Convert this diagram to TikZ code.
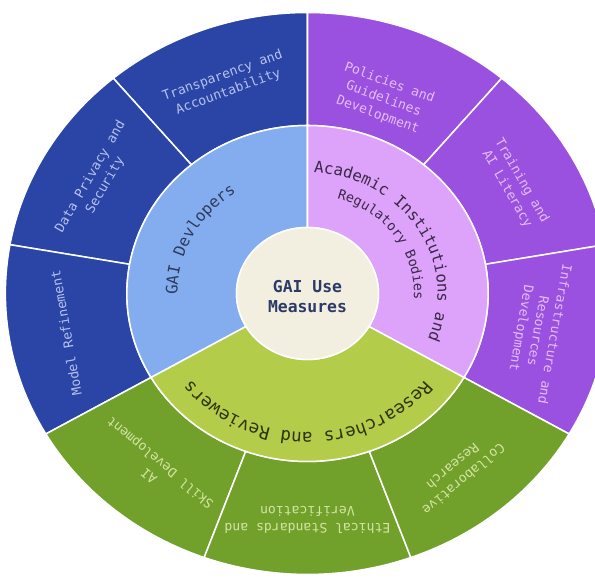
\documentclass[tikz,border=0pt]{standalone}
\usepackage{fontspec}
\usetikzlibrary{decorations.text}
\newfontfamily\monofont{DejaVu Sans Mono}
\definecolor{devdark}{HTML}{2B45A6}
\definecolor{devlight}{HTML}{84ADF0}
\definecolor{acadark}{HTML}{9A51E0}
\definecolor{acalight}{HTML}{DDA2FA}
\definecolor{resdark}{HTML}{71A12A}
\definecolor{reslight}{HTML}{B3CC4A}
\definecolor{hubfill}{HTML}{F2EFE1}
\definecolor{hubtext}{HTML}{2D3A66}
\definecolor{devtext}{HTML}{B4C2EE}
\definecolor{acatext}{HTML}{E6BDF8}
\definecolor{restext}{HTML}{D3E4A4}
\definecolor{devname}{HTML}{2E3A5C}
\definecolor{acaname}{HTML}{3A2848}
\definecolor{resname}{HTML}{2C3410}
\begin{document}
\begin{tikzpicture}[x=0.03225cm,y=0.03cm,
		wedge/.style={draw=white,line width=1.3pt},
		leaflabel/.style={font=\monofont\fontsize{11.2}{14.5}\selectfont,align=center,inner sep=0pt},
		hublabel/.style={font=\monofont\bfseries\fontsize{14}{17}\selectfont,align=center,text=hubtext}]
		\useasboundingbox (-286,-285.5) rectangle (267.4,293.5);
		\draw [wedge,fill=devdark] (90:168) arc[start angle=90,end angle=130,radius=168] -- (130:281) arc[start angle=130,end angle=90,radius=281] -- cycle;
		\draw [wedge,fill=devdark] (130:168) arc[start angle=130,end angle=170,radius=168] -- (170:281) arc[start angle=170,end angle=130,radius=281] -- cycle;
		\draw [wedge,fill=devdark] (170:168) arc[start angle=170,end angle=210,radius=168] -- (210:281) arc[start angle=210,end angle=170,radius=281] -- cycle;
		\draw [wedge,fill=acadark] (50:168) arc[start angle=50,end angle=90,radius=168] -- (90:281) arc[start angle=90,end angle=50,radius=281] -- cycle;
		\draw [wedge,fill=acadark] (10:168) arc[start angle=10,end angle=50,radius=168] -- (50:281) arc[start angle=50,end angle=10,radius=281] -- cycle;
		\draw [wedge,fill=acadark] (-30:168) arc[start angle=-30,end angle=10,radius=168] -- (10:281) arc[start angle=10,end angle=-30,radius=281] -- cycle;
		\draw [wedge,fill=resdark] (210:168) arc[start angle=210,end angle=250,radius=168] -- (250:281) arc[start angle=250,end angle=210,radius=281] -- cycle;
		\draw [wedge,fill=resdark] (250:168) arc[start angle=250,end angle=290,radius=168] -- (290:281) arc[start angle=290,end angle=250,radius=281] -- cycle;
		\draw [wedge,fill=resdark] (290:168) arc[start angle=290,end angle=330,radius=168] -- (330:281) arc[start angle=330,end angle=290,radius=281] -- cycle;
		\draw [wedge,fill=devlight] (90:66) arc[start angle=90,end angle=210,radius=66] -- (210:168) arc[start angle=210,end angle=90,radius=168] -- cycle;
		\draw [wedge,fill=acalight] (-30:66) arc[start angle=-30,end angle=90,radius=66] -- (90:168) arc[start angle=90,end angle=-30,radius=168] -- cycle;
		\draw [wedge,fill=reslight] (210:66) arc[start angle=210,end angle=330,radius=66] -- (330:168) arc[start angle=330,end angle=210,radius=168] -- cycle;
		\draw [wedge,fill=hubfill] (0,0) circle (66);
		\node[hublabel] (hub) at (0,-3) {GAI Use\\Measures};
		\path [decorate,decoration={text along path,text align=center,
			text={|\monofont\fontsize{13.5}{16}\selectfont\color{devname}|GAI Devlopers}}]
			(228:121) arc[start angle=228,end angle=78,radius=121];
		\path [decorate,decoration={text along path,text align=center,
			text={|\monofont\fontsize{13.5}{16}\selectfont\color{acaname}|Academic Institutions and}}]
			(107:121) arc[start angle=107,end angle=-43,radius=121];
		\path [decorate,decoration={text along path,text align=center,
			text={|\monofont\fontsize{11.5}{14}\selectfont\color{acaname}|Regulatory Bodies}}]
			(109:99) arc[start angle=109,end angle=-41,radius=99];
		\path [decorate,decoration={text along path,text align=center,
			text={|\monofont\fontsize{15}{17}\selectfont\color{resname}|Researchers and Reviewers}}]
			(345:139) arc[start angle=345,end angle=195,radius=139];
		\node[leaflabel,text=devtext,rotate=20] (transp) at (110:223) {Transparency and\\Accountability};
		\node[leaflabel,text=devtext,rotate=60] (privacy) at (150:225) {Data Privacy and\\Security};
		\node[leaflabel,text=devtext,rotate=100] (refine) at (190:228) {Model Refinement};
		\node[leaflabel,text=acatext,rotate=-20] (policy) at (70:207) {Policies and\\Guidelines\\Development};
		\node[leaflabel,text=acatext,rotate=-60] (literacy) at (29.5:221) {Training and\\AI Literacy};
		\node[leaflabel,text=acatext,rotate=-100] (infra) at (-10:217) {Infrastructure and\\Resources\\Development};
		\node[leaflabel,text=restext,rotate=140] (skill) at (231:225) {AI\\Skill Development};
		\node[leaflabel,text=restext,rotate=180] (ethics) at (270:226) {Ethical Standards and\\Verification};
		\node[leaflabel,text=restext,rotate=220] (collab) at (308:228) {Collaborative\\Research};
\end{tikzpicture}
\end{document}
